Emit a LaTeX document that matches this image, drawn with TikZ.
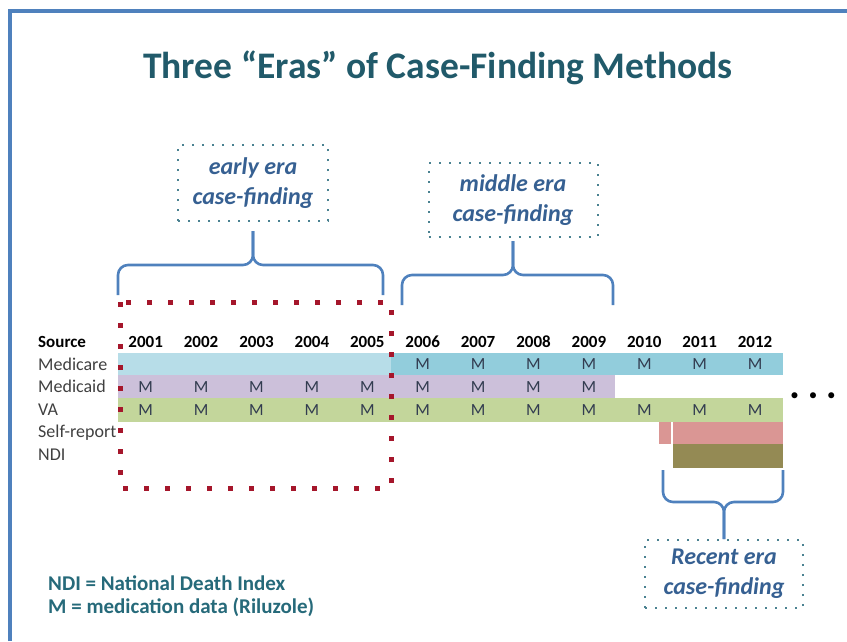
\documentclass[tikz,border=0pt]{standalone}
\usepackage{fontspec}
\setmainfont{Carlito}
\usetikzlibrary{positioning}
\definecolor{frameblue}{RGB}{79,129,189}
\definecolor{titleteal}{RGB}{33,90,106}
\definecolor{legendteal}{RGB}{38,106,122}
\definecolor{erablue}{RGB}{54,96,146}
\definecolor{boxteal}{RGB}{75,130,145}
\definecolor{dotred}{RGB}{165,22,43}
\definecolor{labelgray}{RGB}{64,64,64}
\definecolor{mgray}{RGB}{50,60,80}
\definecolor{carelight}{RGB}{183,221,232}
\definecolor{caredark}{RGB}{146,205,220}
\definecolor{caidpurple}{RGB}{204,192,218}
\definecolor{vagreen}{RGB}{195,214,155}
\definecolor{selfpink}{RGB}{218,150,148}
\definecolor{ndiolive}{RGB}{148,138,84}
\tikzset{year label/.style={anchor=base, inner sep=0pt,
    font=\bfseries\fontsize{17}{17}\selectfont},
  source label/.style={anchor=base west, inner sep=0pt, text=labelgray,
    font=\fontsize{18}{18}\selectfont},
  m label/.style={inner sep=0pt, text=mgray,
    font=\fontsize{17}{17}\selectfont},
  era box/.style={draw=boxteal, line width=2pt, dash pattern=on 2pt off 8pt,
    align=center, inner sep=0pt, text=erablue,
    font=\bfseries\itshape\fontsize{24}{30}\selectfont},
  brace line/.style={draw=frameblue, line width=2.6pt, rounded corners=10pt},
  legend label/.style={anchor=base west, inner sep=0pt, text=legendteal,
    font=\bfseries\fontsize{21}{21}\selectfont}}

\begin{document}
\begin{tikzpicture}[x=1pt,y=-1pt]
    \path[use as bounding box] (0,0) rectangle (847,641);
    \draw[frameblue, line width=4pt] (10,641) -- (10,11) -- (847,11);

    \node[text=titleteal, font=\bfseries\fontsize{37.5}{37.5}\selectfont] (title) at (438,68)
        {Three “Eras” of Case-Finding Methods};

    % bars
    \fill[carelight] (118,353) rectangle (391,375);
    \fill[caredark] (391,353) rectangle (783,375);
    \fill[caidpurple] (118,375) rectangle (615,398);
    \fill[vagreen] (118,398) rectangle (783,421.5);
    \fill[selfpink] (659,421.5) rectangle (671,444);
    \fill[selfpink] (673,421.5) rectangle (783,444);
    \fill[ndiolive] (673,444) rectangle (783,467.5);

    % table text
    \node[year label, anchor=base west] (source) at (38,347) {Source};
    \foreach \yr [count=\i] in {2001,...,2012}
        \node[year label] (y\yr) at ({118+55.4*(\i-0.5)},347) {\yr};
    \node[source label] (medicare) at (38,370) {Medicare};
    \node[source label] (medicaid) at (38,392) {Medicaid};
    \node[source label] (va) at (38,415) {VA};
    \node[source label] (selfreport) at (38,437) {Self-report};
    \node[source label] (ndi) at (38,460) {NDI};

    \foreach \i in {6,...,12}
        \node[m label] (care\i) at ({118+55.4*(\i-0.5)},364) {M};
    \foreach \i in {1,...,9}
        \node[m label] (caid\i) at ({118+55.4*(\i-0.5)},387) {M};
    \foreach \i in {1,...,12}
        \node[m label] (va\i) at ({118+55.4*(\i-0.5)},410) {M};

    \node[font=\fontsize{17}{17}\selectfont] (more) at (813,397)
        {\textbullet\hspace{10pt}\textbullet\hspace{10pt}\textbullet};

    % early era window
    \draw[dotred, line width=5pt, dash pattern=on 5pt off 16pt] (120,302) rectangle (391,488);

    % era boxes
    \node[era box, minimum width=150pt, minimum height=76pt] (early) at (253,183)
        {early era\\case-finding};
    \node[era box, minimum width=169pt, minimum height=74pt] (middle) at (513,200)
        {middle era\\case-finding};
    \node[era box, minimum width=158pt, minimum height=68pt] (recent) at (724,574)
        {Recent era\\case-finding};

    % braces
    \coordinate (early left) at (118,295);
    \coordinate (early right) at (383,295);
    \coordinate (early mid) at (253,265);
    \draw[brace line] (early left) |- (early mid) -- ([yshift=-9pt]early.south);
    \draw[brace line] (early right) |- (early mid) -- ([yshift=-9pt]early.south);

    \coordinate (middle left) at (402,305);
    \coordinate (middle right) at (613,305);
    \coordinate (middle mid) at (513,275);
    \draw[brace line] (middle left) |- (middle mid) -- ([yshift=-3pt]middle.south);
    \draw[brace line] (middle right) |- (middle mid) -- ([yshift=-3pt]middle.south);

    \coordinate (recent left) at (663,470);
    \coordinate (recent right) at (783,470);
    \coordinate (recent mid) at (724,502);
    \draw[brace line] (recent left) |- (recent mid) -- (recent.north);
    \draw[brace line] (recent right) |- (recent mid) -- (recent.north);

    % legend
    \node[legend label] (ndikey) at (48,590) {NDI = National Death Index};
    \node[legend label] (mkey) at (48,613) {M = medication data (Riluzole)};
\end{tikzpicture}
\end{document}
